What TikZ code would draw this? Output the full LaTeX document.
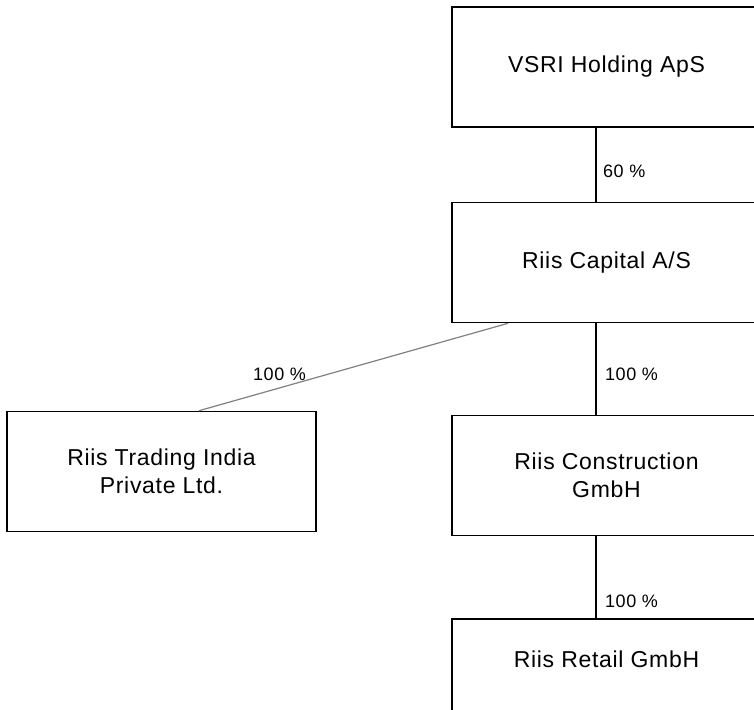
\documentclass[tikz,border=0pt]{standalone}
\usepackage{fontspec}
\setmainfont[LetterSpace=3]{Liberation Sans}
\usetikzlibrary{calc}

\begin{document}
\begin{tikzpicture}[x=1pt,y=-1pt,
	company/.style={draw,line width=1.6pt,minimum width=309pt,minimum height=120pt,inner sep=0pt,align=center,font=\fontsize{23}{28}\selectfont},
	share/.style={anchor=west,inner sep=0pt,font=\fontsize{18}{20}\selectfont},
	link/.style={line width=1.2pt}]
	\useasboundingbox (0,0) rectangle (754,709);
	\coordinate (T) at (596,0);

	\node[company] (vsri) at (606.5,67) {VSRI Holding ApS};
	\node[company] (capital) at (606.5,262.5) {Riis Capital A/S};
	\node[company] (construction) at (606.5,475.5) {Riis Construction\\GmbH};
	\node[company] (india) at (161.5,471.5) {Riis Trading India\\Private Ltd.};
	\node[company,text height=17pt,text depth=41pt] (retail) at (606.5,679) {Riis Retail GmbH};

	\draw[link] (vsri.south -| T) -- (capital.north -| T);
	\draw[link] (capital.south -| T) -- (construction.north -| T);
	\draw[link] (construction.south -| T) -- (retail.north -| T);
	\draw[link,gray] ([xshift=-98.5pt]capital.south) -- ([xshift=37.5pt]india.north);

	\node[share] (s1) at (603,171) {60 \%};
	\node[share] (s2) at (605,374) {100 \%};
	\node[share] (s3) at (605,601) {100 \%};
	\node[share] (s4) at (253,374) {100 \%};
\end{tikzpicture}
\end{document}
